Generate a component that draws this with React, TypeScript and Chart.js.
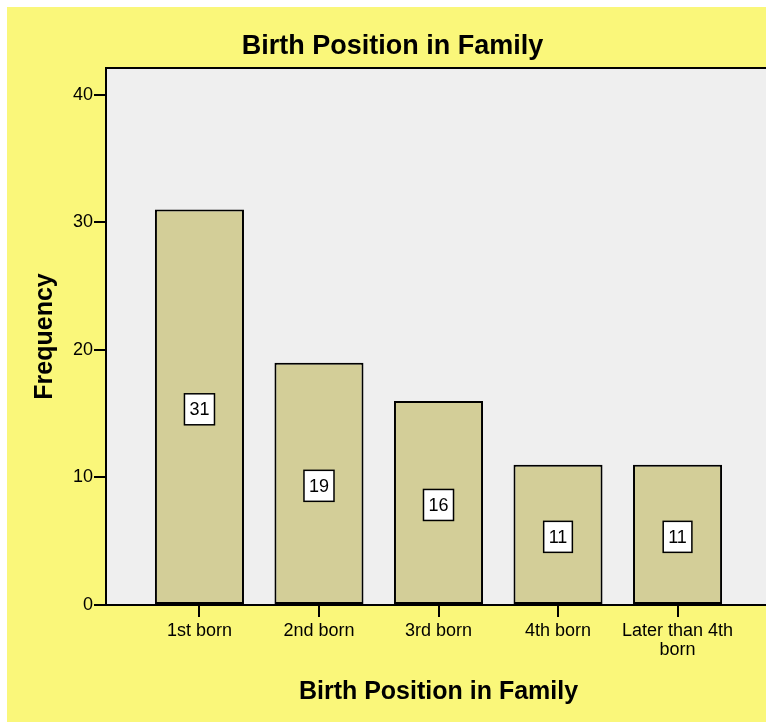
import React, { useEffect, useRef } from "react";
import { Chart, registerables } from "chart.js";

Chart.register(...registerables);

const categories = ["1st born", "2nd born", "3rd born", "4th born", "Later than 4th born"];
const tickLabels: string[][] = [["1st born"], ["2nd born"], ["3rd born"], ["4th born"], ["Later than 4th", "born"]];
const frequencies = [31, 19, 16, 11, 11];
const yTicks = [0, 10, 20, 30, 40];
const chartTitle = "Birth Position in Family";
const xTitle = "Birth Position in Family";
const yTitle = "Frequency";

const FONT = "'Liberation Sans', Arial, sans-serif";
const YELLOW = "#FAF77A";
const PLOT_BG = "#EFEFEF";
const BAR = "#D3CE98";

const decorPlugin = {
  id: "decor",
  beforeDraw(chart: any) {
    const { ctx, chartArea, width, height } = chart;
    ctx.save();
    ctx.fillStyle = YELLOW;
    ctx.fillRect(0, 0, width, height);
    ctx.fillStyle = PLOT_BG;
    ctx.fillRect(chartArea.left, chartArea.top, chartArea.right - chartArea.left, chartArea.bottom - chartArea.top);
    ctx.restore();
  },
  afterDraw(chart: any) {
    const { ctx, chartArea, width } = chart;
    ctx.save();
    ctx.strokeStyle = "#000";
    ctx.lineWidth = 2;
    ctx.strokeRect(chartArea.left, chartArea.top, chartArea.right - chartArea.left, chartArea.bottom - chartArea.top);
    ctx.fillStyle = "#000";
    ctx.textAlign = "center";
    ctx.textBaseline = "middle";
    ctx.font = `bold 27px ${FONT}`;
    ctx.fillText(chartTitle, width / 2, 40);
    ctx.font = `bold 25px ${FONT}`;
    ctx.fillText(xTitle, (chartArea.left + chartArea.right) / 2, 685);
    ctx.save();
    ctx.translate(38, (chartArea.top + chartArea.bottom) / 2);
    ctx.rotate(-Math.PI / 2);
    ctx.fillText(yTitle, 0, 0);
    ctx.restore();
    ctx.restore();
  },
  afterDatasetsDraw(chart: any) {
    const { ctx } = chart;
    const meta = chart.getDatasetMeta(0);
    ctx.save();
    ctx.font = `18px ${FONT}`;
    ctx.textAlign = "center";
    ctx.textBaseline = "middle";
    meta.data.forEach((el: any, i: number) => {
      const txt = String(frequencies[i]);
      const w = ctx.measureText(txt).width + 10;
      const h = 31;
      const cx = el.x;
      const cy = (el.y + el.base) / 2 + 2.5;
      ctx.fillStyle = "#fff";
      ctx.fillRect(cx - w / 2, cy - h / 2, w, h);
      ctx.strokeStyle = "#000";
      ctx.lineWidth = 1.5;
      ctx.strokeRect(cx - w / 2, cy - h / 2, w, h);
      ctx.fillStyle = "#000";
      ctx.fillText(txt, cx, cy + 1);
    });
    ctx.restore();
  },
};

export default function App() {
  const ref = useRef<HTMLCanvasElement>(null);
  useEffect(() => {
    document.body.style.overflow = "hidden";
    const chart = new Chart(ref.current!, {
      type: "bar",
      data: {
        datasets: [
          {
            label: "Frequency",
            data: frequencies.map((v, i) => ({ x: i, y: v })),
            backgroundColor: BAR,
            borderColor: "#000",
            borderWidth: 2,
            borderSkipped: false,
            barPercentage: 0.745,
            categoryPercentage: 1,
          } as any,
        ],
      },
      options: {
        animation: false,
        responsive: false,
        devicePixelRatio: 1,
        layout: { padding: { top: 61, right: 7, left: 0, bottom: 0 } },
        plugins: { legend: { display: false }, tooltip: { enabled: false }, title: { display: false } },
        scales: {
          x: {
            type: "linear",
            min: -0.782,
            max: 4.782,
            offset: false,
            afterBuildTicks: (s: any) => {
              s.ticks = categories.map((_, i) => ({ value: i }));
            },
            afterFit: (s: any) => {
              s.height = 117;
            },
            grid: { offset: false, drawOnChartArea: false, drawTicks: true, tickLength: 12, color: "#000", lineWidth: 2 },
            border: { display: true, color: "#000", width: 2 },
            ticks: {
              autoSkip: false,
              maxRotation: 0,
              padding: 5,
              color: "#000",
              font: { family: FONT, size: 18, lineHeight: 1.05 },
              callback: (_v: any, i: number) => tickLabels[i],
            },
          },
          y: {
            min: 0,
            max: 42.1,
            afterBuildTicks: (s: any) => {
              s.ticks = yTicks.map((v) => ({ value: v }));
            },
            afterFit: (s: any) => {
              s.width = 99;
            },
            grid: { drawOnChartArea: false, drawTicks: true, tickLength: 12, color: "#000", lineWidth: 2 },
            border: { display: true, color: "#000", width: 2 },
            ticks: { padding: 1, color: "#000", font: { family: FONT, size: 18 } },
          },
        },
      } as any,
      plugins: [decorPlugin],
    });
    return () => chart.destroy();
  }, []);
  return (
    <div style={{ position: "fixed", left: 7, top: 7, width: 759, height: 715, overflow: "hidden" }}>
      <canvas ref={ref} width={771} height={715} style={{ display: "block" }} />
    </div>
  );
}
